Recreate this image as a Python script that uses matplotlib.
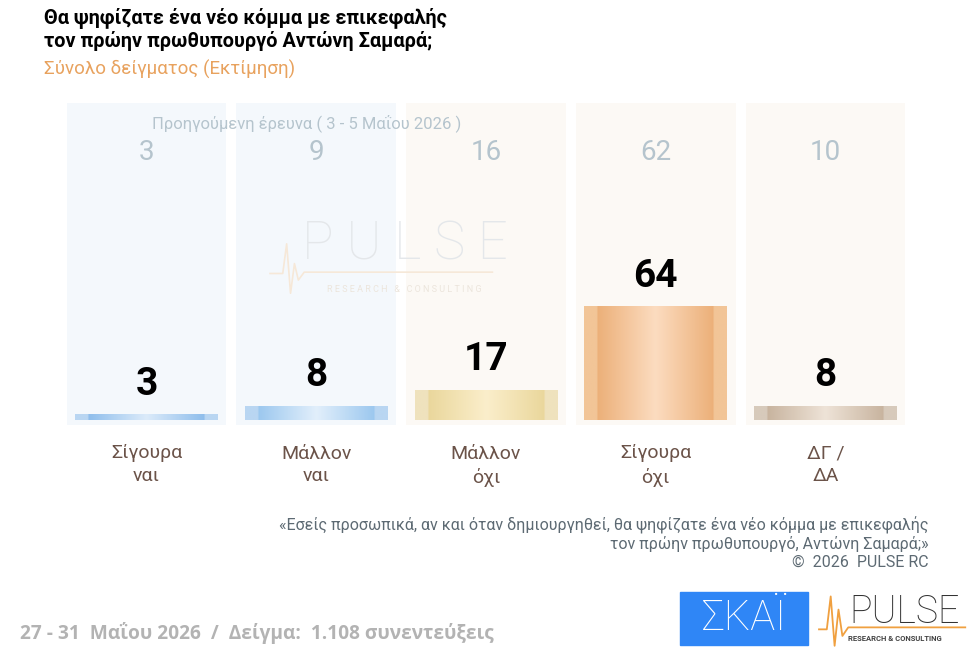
import numpy as np
import matplotlib.pyplot as plt
from matplotlib.patches import Rectangle
from matplotlib.colors import to_rgb

plt.rcParams['font.family'] = ['Roboto', 'DejaVu Sans']

# data
categories = ['Σίγουρα\nναι', 'Μάλλον\nναι', 'Μάλλον\nόχι', 'Σίγουρα\nόχι', 'ΔΓ /\nΔΑ']
current = [3, 8, 17, 64, 8]
previous = [3, 9, 16, 62, 10]

# bar gradients: edge, dark, centre
grad_cols = [('#b9d6f2', '#8fbeec', '#dcebfa'),
             ('#b9d6f2', '#9cc8ef', '#e2effb'),
             ('#efe2bd', '#ead79c', '#fbeecb'),
             ('#f2c597', '#ecb079', '#fcdcc0'),
             ('#d7cabb', '#c8b49f', '#eee3d7')]
bg_cols = ['#f4f8fc', '#f4f8fc', '#fcf9f5', '#fcf9f5', '#fcf9f5']

fig = plt.figure(figsize=(9.75, 6.59), dpi=100)
ax = fig.add_axes([0.0632, 0.3551, 0.8705, 0.4886])
x = np.arange(len(categories))
ax.set_xlim(-0.5, len(categories) - 0.5)
ax.set_ylim(-3, 178.9)
ax.axis('off')

# background columns
for i in x:
    ax.add_patch(Rectangle((i - 0.47, -3), 0.94, 182, color=bg_cols[i], zorder=0, lw=0))

# watermark
fig.text(0.415, 0.628, 'P U L S E', ha='center', va='center', fontsize=38,
         color='#e4e7ea', fontweight='light', zorder=1)
fig.text(0.415, 0.561, 'R E S E A R C H   &   C O N S U L T I N G', ha='center', va='center',
         fontsize=6.5, color='#ece5dc', zorder=1)
wx = [0.277, 0.29, 0.294, 0.298, 0.302, 0.306, 0.312, 0.505]
wy = [0.585, 0.585, 0.63, 0.555, 0.60, 0.575, 0.587, 0.587]
fig.lines.append(plt.Line2D(wx, wy, transform=fig.transFigure, color='#f6e8d8', lw=1.2))

bars = ax.bar(x, current, width=0.842, color='none', zorder=2)
prof = np.linspace(0, 1, 300)
stops = [0, 0.09, 0.095, 0.5, 0.905, 0.91, 1]
for b, (e, d, c) in zip(bars, grad_cols):
    cols = [to_rgb(k) for k in (e, e, d, c, d, e, e)]
    img = np.stack([np.interp(prof, stops, [cc[ch] for cc in cols]) for ch in range(3)], axis=-1)
    img = img[np.newaxis, :, :]
    x0 = b.get_x()
    w = b.get_width()
    h = b.get_height()
    im = ax.imshow(img, extent=[x0, x0 + w, 0, h], aspect='auto', zorder=2)
    im.set_clip_path(b)

for b, v in zip(bars, current):
    ax.annotate(str(v), (b.get_x() + b.get_width() / 2, v), xytext=(0, 8),
                textcoords='offset points', ha='center', va='bottom',
                fontsize=28, fontweight='bold', color='black', zorder=3)

for i, v in zip(x, previous):
    ax.text(i, 151, str(v), ha='center', va='center', fontsize=20, color='#b5c4cd', zorder=3)

for i, lab in zip(x, categories):
    ax.text(i, -14, lab, ha='center', va='top', fontsize=14, color='#6b5349',
            linespacing=1.35, clip_on=False)

fig.text(0.314, 0.8134, 'Προηγούμενη έρευνα ( 3 - 5 Μαΐου 2026 )', ha='center', va='center',
         fontsize=12, color='#b5c4cd')

# titles
fig.text(0.045, 0.988, 'Θα ψηφίζατε ένα νέο κόμμα με επικεφαλής\nτον πρώην πρωθυπουργό Αντώνη Σαμαρά;',
         ha='left', va='top', fontsize=14.3, fontweight='bold', color='black', linespacing=1.1)
fig.text(0.045, 0.895, 'Σύνολο δείγματος (Εκτίμηση)', ha='left', va='center',
         fontsize=13.5, color='#e8a25e')

# footnote
fig.text(0.952, 0.176, '«Εσείς προσωπικά, αν και όταν δημιουργηθεί, θα ψηφίζατε ένα νέο κόμμα με επικεφαλής\n'
         'τον πρώην πρωθυπουργό, Αντώνη Σαμαρά;»\n©  2026  PULSE RC',
         ha='right', va='center', fontsize=11.5, color='#5d6a73', linespacing=1.2)

fig.text(0.021, 0.039, '27 - 31  Μαΐου 2026  /  Δείγμα:  1.108 συνεντεύξεις', ha='left', va='center',
         fontsize=13.8, fontweight='bold', color='#b3b3b3', family=['Open Sans', 'DejaVu Sans'])

# logos
fig.patches.append(Rectangle((0.697, 0.021), 0.132, 0.081, transform=fig.transFigure,
                             color='#2f86f6', zorder=1))
fig.text(0.763, 0.062, 'ΣΚΑΪ', ha='center', va='center', fontsize=30, color='white',
         fontweight='light')
fig.text(0.928, 0.071, 'PULSE', ha='center', va='center', fontsize=27, color='#333333',
         fontweight='light')
fig.text(0.918, 0.031, 'RESEARCH & CONSULTING', ha='center', va='center', fontsize=5.5,
         color='#444444', fontweight='bold')
lx = [0.84, 0.848, 0.852, 0.856, 0.86, 0.864, 0.87, 0.99]
ly = [0.045, 0.045, 0.095, 0.02, 0.075, 0.035, 0.048, 0.048]
fig.lines.append(plt.Line2D(lx, ly, transform=fig.transFigure, color='#f0a040', lw=1.3))

fig.savefig('out.png', dpi=100, facecolor='white')
